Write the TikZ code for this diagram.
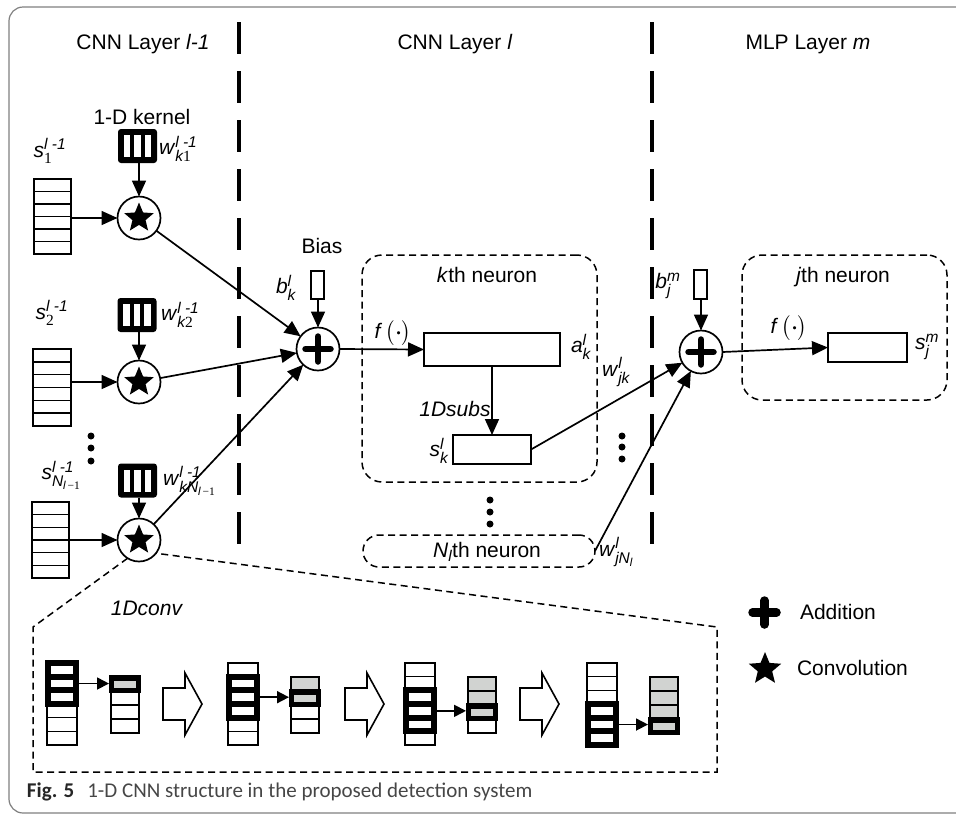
\documentclass[tikz,border=0pt]{standalone}
\usepackage{amsmath}
\usepackage{fontspec}
\setmainfont{Liberation Sans}
\newfontfamily\captionfont{Carlito}
\newfontfamily\serifd{Liberation Serif}
\usetikzlibrary{arrows.meta,shapes.geometric,calc}

\definecolor{cellgray}{RGB}{209,211,209}
\definecolor{framegray}{RGB}{128,128,128}
\definecolor{capgray}{RGB}{70,70,70}

% script-sized text box for indices
\newcommand{\scr}[1]{\hbox{\fontsize{15.5}{16}\selectfont #1}}
% small index inside an index
\newcommand{\subscr}[1]{\raisebox{-3pt}{\fontsize{11.5}{12}\selectfont #1}}
% italic symbol with an italic superscript and a subscript
\newcommand{\varlbl}[3]{\textit{#1}$^{\scr{\itshape #2}}_{\scr{#3}}$}

% column of six equal cells: name, x, y, width, height
\newcommand{\cellcolumn}[5]{%
  \node[cellbox, minimum width=#4pt, minimum height=#5pt] (#1) at (#2,#3) {};
  \foreach \i in {1,...,5}
    \draw[line width=1.6pt] ($(#1.north west)!\i/6!(#1.south west)$) -- ($(#1.north east)!\i/6!(#1.south east)$);
}
% black 1-D kernel with three white slots: name, x, y
\newcommand{\kernelglyph}[3]{%
  \node[kernelbox] (#1) at (#2,#3) {};
  \foreach \dx [count=\c] in {-10.5,0,10.5}
    \node[slot] (#1-slot\c) at ($(#1.center)+(\dx,0)$) {};
}
% thick plus sign round a point: name, half length, stroke width
\newcommand{\plusglyph}[3]{%
  \draw[line width=#3pt, line cap=round] ($(#1)+(-#2,0)$) -- ($(#1)+(#2,0)$) ($(#1)+(0,-#2)$) -- ($(#1)+(0,#2)$);
}

\begin{document}
\begin{tikzpicture}[x=1pt,y=-1pt,
  every node/.style={font=\fontsize{21}{25}\selectfont, inner sep=0pt, outer sep=0pt},
  conn/.style={line width=1.7pt, -{Triangle[length=16pt,width=14pt]}},
  smallconn/.style={line width=1.7pt, -{Triangle[length=12pt,width=12pt]}},
  layersep/.style={line width=4pt, dash pattern=on 32pt off 17pt},
  neuronbox/.style={draw, line width=1.5pt, dash pattern=on 7pt off 4.5pt, rounded corners=20pt},
  opcircle/.style={circle, draw, line width=1.7pt, minimum size=43pt},
  starglyph/.style={star, star points=5, star point ratio=2.25, fill=black, draw=none, minimum size=31pt},
  cellbox/.style={rectangle, draw, line width=1.6pt, fill=white},
  kernelbox/.style={rectangle, fill=black, rounded corners=3pt, minimum width=39pt, minimum height=34pt},
  slot/.style={rectangle, fill=white, minimum width=6.5pt, minimum height=22pt},
  valbox/.style={rectangle, draw, line width=1.7pt, fill=white},
  dotmark/.style={circle, fill=black, minimum size=7pt},
  blockarrow/.style={draw, line width=1.6pt, fill=white},
]
\useasboundingbox (0,0) rectangle (956,815);
\begin{scope}
  \clip (0,0) rectangle (956,815);
  \draw[framegray, line width=1.2pt, rounded corners=14pt] (9,7) rectangle (990,813);
\end{scope}

% layer separators
\coordinate (sepAtop) at (239,22);
\coordinate (sepAbot) at (239,545);
\coordinate (sepBtop) at (652,22);
\coordinate (sepBbot) at (652,545);
\draw[layersep] (sepAtop) -- (sepAbot);
\draw[layersep] (sepBtop) -- (sepBbot);

% layer titles
\node (t1) at (143,44) {CNN Layer \textit{l-1}};
\node (t2) at (455,44) {CNN Layer \textit{l}};
\node (t3) at (808,44) {MLP Layer \textit{m}};

% ---- CNN layer l-1 ----
\node (kerneltxt) at (142,117) {1-D kernel};
\cellcolumn{in1}{52.5}{216.5}{37}{75}
\cellcolumn{in2}{52}{387.5}{38}{77}
\cellcolumn{in3}{50.5}{540}{37}{76}
\kernelglyph{ker1}{137.5}{146}
\kernelglyph{ker2}{137}{315}
\kernelglyph{ker3}{137.5}{480.5}
\foreach \n/\y in {1/218, 2/382, 3/540} {
  \node[opcircle] (st\n) at (139,\y) {};
  \node[starglyph] (st\n-g) at (st\n) {};
}
\node (ls1) at (50,151) {\varlbl{s}{l -1}{\serifd 1}};
\node (ls2) at (52,313) {\varlbl{s}{l -1}{\serifd 2}};
\node (ls3) at (61,475) {\varlbl{s}{l -1}{\itshape N\subscr{\itshape l\,\serifd\upshape −1}}};
\node[anchor=west] (lw1) at (159,149) {\varlbl{w}{l -1}{\itshape k\serifd\upshape 1}};
\node[anchor=west] (lw2) at (161,315) {\varlbl{w}{l -1}{\itshape k\serifd\upshape 2}};
\node[anchor=west] (lw3) at (163,481) {\varlbl{w}{l -1}{\itshape kN\subscr{\itshape l\,\serifd\upshape −1}}};
\foreach \y [count=\c] in {436,448,461} \node[dotmark] (dl\c) at (91,\y) {};
\foreach \n in {1,2,3} {
  \draw[conn] (st\n.north |- ker\n.south) -- (st\n.north);
  \draw[conn] (in\n.east |- st\n.west) -- (st\n.west);
}

% ---- CNN layer l ----
\node[opcircle] (pl1) at (318,349) {};
\plusglyph{pl1}{12.5}{6.5}
\node[valbox, minimum width=13pt, minimum height=28pt] (bias1) at (317.5,285) {};
\node (biastxt) at (322,246) {Bias};
\node (lb1) at (286,288) {\varlbl{b}{l}{\itshape k}};
\draw[conn] (pl1.north |- bias1.south) -- (pl1.north);
\foreach \n in {1,2,3} \draw[conn] (st\n) -- (pl1);

\node[neuronbox, minimum width=235pt, minimum height=227pt] (kbox) at (479.5,368.5) {};
\node (ktxt) at (487,275) {\textit{k}th neuron};
\node[valbox, minimum width=136pt, minimum height=33pt] (ra) at (492,349.5) {};
\node[valbox, minimum width=78pt, minimum height=29pt] (rs) at (492,449.5) {};
\node (fk) at (393,333) {\textit{f}\,$\bigl(\boldsymbol{\cdot}\bigr)$};
\node (la) at (581,347) {\varlbl{a}{l}{\itshape k}};
\node (lsk) at (439,451) {\varlbl{s}{l}{\itshape k}};
\node (subs) at (455,409) {\textit{1Dsubs}};
\draw[conn] (pl1.east) -- (ra.west);
\draw[conn] (ra.south) -- (rs.north);
\foreach \y [count=\c] in {500,512,524} \node[dotmark] (dm\c) at (490,\y) {};
\node[neuronbox, rounded corners=16pt, minimum width=232pt, minimum height=32pt] (nbox) at (479,551) {};
\node (ntxt) at (487,552) {\textit{N}$_{\scr{\itshape l}}$th neuron};

% ---- MLP layer m ----
\node[opcircle] (pl2) at (701,352) {};
\plusglyph{pl2}{12.5}{6.5}
\node[valbox, minimum width=13pt, minimum height=29pt] (bias2) at (700.5,284.5) {};
\node (lb2) at (668,286) {\varlbl{b}{m}{\itshape j}};
\draw[conn] (pl2.north |- bias2.south) -- (pl2.north);
\node[neuronbox, minimum width=205pt, minimum height=145pt] (jbox) at (844.5,327.5) {};
\node (jtxt) at (843,277) {\textit{j}th neuron};
\node[valbox, minimum width=79pt, minimum height=29pt] (sm) at (867.5,347.5) {};
\node (fj) at (789,328) {\textit{f}\,$\bigl(\boldsymbol{\cdot}\bigr)$};
\node (lsm) at (927,347) {\varlbl{s}{m}{\itshape j}};
\draw[conn] (pl2.east) -- (sm.west);
\draw[conn] (rs.east) -- (pl2);
\draw[conn] (nbox.east) -- (pl2);
\node (lwjk) at (616,372) {\varlbl{w}{l}{\itshape jk}};
\node[anchor=west] (lwjn) at (599,552) {\varlbl{w}{l}{\itshape jN\subscr{\itshape l}}};
\foreach \y [count=\c] in {436,447,459} \node[dotmark] (dr\c) at (622,\y) {};

% ---- 1-D convolution detail ----
\coordinate (cvTL) at (33,627);
\coordinate (cvBL) at (33,772);
\coordinate (cvBR) at (717,772);
\coordinate (cvTR) at (717,627);
\draw[line width=1.5pt, dash pattern=on 7pt off 4.5pt] (st3.238) -- (cvTL) -- (cvBL) -- (cvBR) -- (cvTR) -- (st3.-38);
\node (convtxt) at (147,608) {\textit{1Dconv}};

\foreach \k/\xi/\xo in {1/47/111, 2/228/291, 3/405/468, 4/587/650} {
  \foreach \i in {1,...,6}
    \node[cellbox, minimum width=30pt, minimum height=13.67pt] (c\k-\i) at (\xi+15, 656.17+13.67*\i) {};
  \pgfmathtruncatemacro{\klast}{\k+2}
  \foreach \i in {\k,...,\klast}
    \node[draw, line width=6pt, fill=white, minimum width=28pt, minimum height=13.67pt] (h\k-\i) at (c\k-\i) {};
  \foreach \j in {1,...,4} {
    \ifnum\j>\k \def\cellfill{white}\else\def\cellfill{cellgray}\fi
    \node[cellbox, fill=\cellfill, minimum width=28pt, minimum height=14pt] (o\k-\j) at (\xo+14, 670+14*\j) {};
  }
  \node[draw, line width=5.5pt, fill=cellgray, minimum width=27pt, minimum height=12.5pt] (oh\k) at (o\k-\k) {};
  \pgfmathtruncatemacro{\kmid}{\k+1}
  \draw[smallconn, shorten >=2.5pt] (h\k-\kmid.east) -- (h\k-\kmid.east -| oh\k.west);
}
\foreach \bx in {163,345,520}
  \draw[blockarrow] (\bx,688) -- (\bx+22,688) -- (\bx+22,673) -- (\bx+39,704) -- (\bx+22,735) -- (\bx+22,720) -- (\bx,720) -- cycle;

% ---- legend ----
\coordinate (addsym) at (764.5,612.5);
\plusglyph{addsym}{12}{8.5}
\node[starglyph, minimum size=34pt] (convsym) at (765,669) {};
\node[anchor=west] (addtxt) at (800,612) {Addition};
\node[anchor=west] (convlegend) at (797,668) {Convolution};

% ---- caption ----
\node[anchor=base west, font=\captionfont\fontsize{21}{25}\selectfont, text=capgray] (cap) at (27,797)
  {\textbf{\color{black!85}Fig. 5}\hspace{13pt}1-D CNN structure in the proposed detection system};
\end{tikzpicture}
\end{document}
